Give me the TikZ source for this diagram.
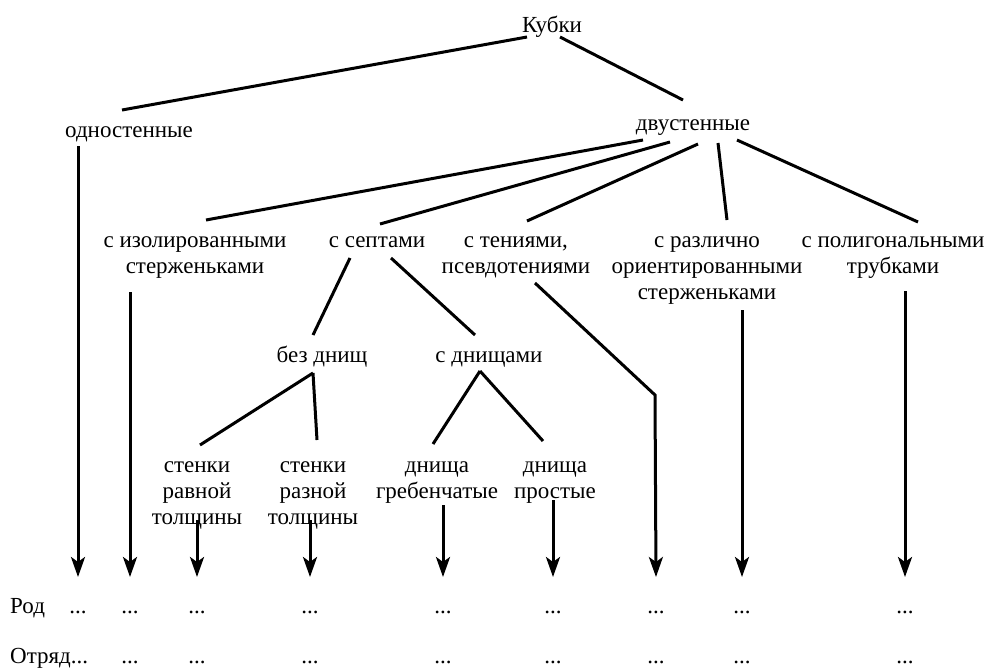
\documentclass[tikz,border=0pt]{standalone}
\usepackage{fontspec}
\setmainfont{Liberation Serif}
\usetikzlibrary{arrows.meta,calc}
\begin{document}
\begin{tikzpicture}[x=1pt,y=-1pt,
  lbl/.style={inner sep=0pt, anchor=base, align=center, font=\fontsize{23}{26}\selectfont},
  ln/.style={line width=3pt},
  arr/.style={line width=3pt, line join=miter, -{Stealth[length=20pt,width=14pt,inset=5pt]}}]
\useasboundingbox (0,0) rectangle (991,667);
% anchor base = baseline of the last line
\node[lbl] (kub) at (552,32) {Кубки};
\node[lbl] (odn) at (129,137) {одностенные};
\node[lbl] (dvu) at (693,130) {двустенные};
\node[lbl] (iso) at (195,273) {с изолированными\\стерженьками};
\node[lbl] (sep) at (377,247) {с септами};
\node[lbl] (ten) at (516,273) {с тениями,\\псевдотениями};
\node[lbl] (raz) at (707,299) {с различно\\ориентированными\\стерженьками};
\node[lbl] (pol) at (893,273) {с полигональными\\трубками};
\node[lbl] (bez) at (322,362) {без днищ};
\node[lbl] (sdn) at (489,362) {с днищами};
\node[lbl] (ravn) at (197,524) {стенки\\равной\\толщины};
\node[lbl] (razn) at (313,524) {стенки\\разной\\толщины};
\node[lbl] (greb) at (437,498) {днища\\гребенчатые};
\node[lbl] (prost) at (555,498) {днища\\простые};
\node[lbl, anchor=base west] (rod) at (10,613) {Род};
\node[lbl, anchor=base west] (otr) at (10,663) {Отряд...};
\foreach \n/\x in {1/78,2/130,3/197,4/310,5/443,6/553,7/656,8/742,9/905}
  \node[lbl] (r\n) at (\x,613) {...};
\foreach \n/\x in {2/130,3/197,4/310,5/443,6/553,7/656,8/742,9/905}
  \node[lbl] (o\n) at (\x,663) {...};
\coordinate (tb) at (655,395);
% tree lines
\draw[ln] ($(kub.base)+(-25,5)$) -- ($(odn.base)+(-7,-27)$);
\draw[ln] ($(kub.base)+(8,5)$) -- ($(dvu.base)+(-10,-30)$);
\draw[ln] ($(dvu.base)+(-50,10)$) -- ($(iso.base)+(11,-53)$);
\draw[ln] ($(dvu.base)+(-23,12)$) -- ($(sep.base)+(3,-23)$);
\draw[ln] ($(dvu.base)+(5,14)$) -- ($(ten.base)+(11,-52)$);
\draw[ln] ($(dvu.base)+(25,13)$) -- ($(raz.base)+(20,-79)$);
\draw[ln] ($(dvu.base)+(44,10)$) -- ($(pol.base)+(25,-51)$);
\draw[ln] ($(sep.base)+(-27,11)$) -- ($(bez.base)+(-9,-27)$);
\draw[ln] ($(sep.base)+(14,11)$) -- ($(sdn.base)+(-14,-27)$);
\draw[ln] ($(bez.base)+(-9,11)$) -- ($(ravn.base)+(3,-79)$);
\draw[ln] ($(bez.base)+(-9,11)$) -- ($(razn.base)+(4,-84)$);
\draw[ln] ($(sdn.base)+(-9,9)$) -- ($(greb.base)+(-4,-54)$);
\draw[ln] ($(sdn.base)+(-9,9)$) -- ($(prost.base)+(-12,-57)$);
% arrows
\draw[arr] ($(odn.base -| r1.base)+(0,9)$) -- ($(r1.base)+(0,-36)$);
\draw[arr] ($(iso.base -| r2.base)+(0,19)$) -- ($(r2.base)+(0,-36)$);
\draw[arr] ($(ravn.base -| r3.base)+(0,-4)$) -- ($(r3.base)+(0,-36)$);
\draw[arr] ($(razn.base -| r4.base)+(0,-4)$) -- ($(r4.base)+(0,-36)$);
\draw[arr] ($(greb.base -| r5.base)+(0,7)$) -- ($(r5.base)+(0,-36)$);
\draw[arr] ($(prost.base -| r6.base)+(0,2)$) -- ($(r6.base)+(0,-36)$);
\draw[arr] ($(ten.base)+(19,10)$) -- (tb) -- ($(r7.base)+(0,-36)$);
\draw[arr] ($(raz.base -| r8.base)+(0,11)$) -- ($(r8.base)+(0,-36)$);
\draw[arr] ($(pol.base -| r9.base)+(0,18)$) -- ($(r9.base)+(0,-36)$);
\end{tikzpicture}
\end{document}
